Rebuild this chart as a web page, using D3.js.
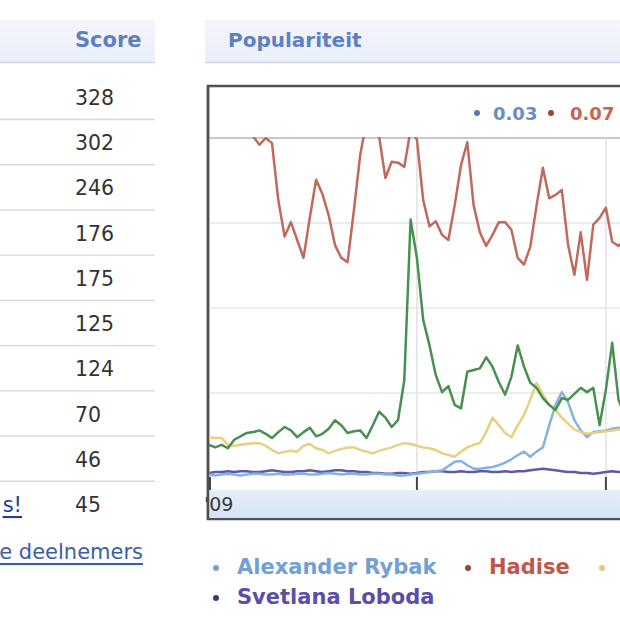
<!DOCTYPE html>
<html><head><meta charset="utf-8">
<script src="https://cdn.jsdelivr.net/npm/d3@7"></script>
<style>body{margin:0;background:#fff}svg{display:block}</style>
</head><body>
<svg id="c" width="620" height="620"></svg>
<script>
// ---- data ----
const scores = [328, 302, 246, 176, 175, 125, 124, 70, 46, 45];
const readout = ["0.03", "0.07"];
const xTickIdx = [33, 63];
const xTickLabel = ["'09"];
const hadise = [4.4,4.5,4.3,4.4,4.6,4.3,4.2,4.02,3.92,4.0,3.94,3.27,2.84,3.01,2.80,2.59,3.06,3.51,3.34,3.09,2.74,2.59,2.54,3.15,3.80,4.2,4.5,4.02,3.53,3.72,3.71,3.66,4.1,3.98,3.27,2.96,3.02,2.86,2.80,3.21,3.68,3.95,3.21,2.89,2.73,2.86,3.01,3.01,2.92,2.59,2.51,2.72,3.21,3.65,3.29,3.33,3.39,2.74,2.39,2.89,2.33,2.98,3.06,3.18,2.78,2.73,2.80];
const groen = [0.39,0.36,0.39,0.35,0.45,0.49,0.53,0.54,0.56,0.52,0.47,0.54,0.60,0.56,0.48,0.54,0.59,0.49,0.52,0.58,0.68,0.62,0.53,0.55,0.56,0.47,0.62,0.78,0.71,0.60,0.68,1.15,3.04,2.59,1.86,1.56,1.21,1.01,1.08,0.86,0.82,1.25,1.27,1.29,1.42,1.31,1.13,0.98,1.19,1.56,1.31,1.12,1.06,0.94,0.86,0.80,0.94,0.92,0.99,1.06,1.01,1.06,0.62,1.04,1.59,0.92,0.74];
const oranje = [0.48,0.47,0.47,0.39,0.38,0.39,0.40,0.41,0.41,0.38,0.33,0.29,0.31,0.32,0.31,0.38,0.40,0.35,0.33,0.29,0.32,0.34,0.36,0.36,0.33,0.31,0.29,0.32,0.34,0.36,0.39,0.41,0.40,0.38,0.36,0.35,0.33,0.29,0.27,0.25,0.31,0.36,0.39,0.41,0.54,0.71,0.62,0.53,0.48,0.62,0.74,0.92,1.12,0.98,0.86,0.80,0.71,0.64,0.57,0.54,0.52,0.53,0.54,0.55,0.56,0.57,0.57];
const rybak = [0.04,0.03,0.04,0.05,0.04,0.03,0.04,0.05,0.05,0.04,0.04,0.05,0.04,0.04,0.05,0.05,0.04,0.04,0.05,0.06,0.05,0.04,0.05,0.05,0.04,0.04,0.05,0.05,0.04,0.04,0.03,0.03,0.04,0.05,0.06,0.07,0.08,0.09,0.14,0.19,0.20,0.15,0.11,0.11,0.12,0.13,0.15,0.18,0.22,0.27,0.31,0.25,0.31,0.36,0.62,0.86,1.01,0.89,0.68,0.56,0.48,0.54,0.55,0.56,0.58,0.59,0.59];
const loboda = [0.06,0.07,0.07,0.08,0.07,0.08,0.08,0.07,0.07,0.08,0.09,0.08,0.07,0.07,0.08,0.08,0.09,0.08,0.07,0.08,0.09,0.09,0.08,0.08,0.07,0.07,0.06,0.06,0.05,0.05,0.06,0.06,0.05,0.06,0.07,0.07,0.08,0.08,0.07,0.07,0.08,0.07,0.07,0.08,0.08,0.07,0.07,0.08,0.07,0.08,0.08,0.09,0.10,0.11,0.10,0.09,0.08,0.07,0.07,0.06,0.06,0.05,0.06,0.07,0.08,0.07,0.07];

const series = [
  {key:"loboda", values: loboda, color:"#5f5aa8"},
  {key:"rybak", values: rybak, color:"#86b2e0"},
  {key:"oranje", values: oranje, color:"#e8cf82"},
  {key:"groen", values: groen, color:"#479150"},
  {key:"hadise", values: hadise, color:"#c06a5c"}
];
const legendRow1 = [
  {name:"Alexander Rybak", dot:"#7f9cc4", text:"#72a0d4"},
  {name:"Hadise", dot:"#9a4636", text:"#c0564a"},
  {name:"", dot:"#f2c27c", text:"#f0a040"}
];
const legendRow2 = [{name:"Svetlana Loboda", dot:"#3e3a88", text:"#5a4ea6"}];

// ---- drawing ----
const svg = d3.select("#c");
const F = "'DejaVu Sans', Verdana, sans-serif";

const defs = svg.append("defs");
const hg = defs.append("linearGradient").attr("id","hg").attr("x1",0).attr("x2",0).attr("y1",0).attr("y2",1);
hg.append("stop").attr("offset","0").attr("stop-color","#f4f6fb");
hg.append("stop").attr("offset","1").attr("stop-color","#eaeef7");
const bg = defs.append("linearGradient").attr("id","bg").attr("x1",0).attr("x2",0).attr("y1",0).attr("y2",1);
bg.append("stop").attr("offset","0").attr("stop-color","#e6eff9");
bg.append("stop").attr("offset","1").attr("stop-color","#d3e2f3");
defs.append("clipPath").attr("id","plotclip").append("rect")
  .attr("x",209).attr("y",137).attr("width",420).attr("height",353);

[[0,155],[205,430]].forEach(([x,w])=>{
  svg.append("rect").attr("x",x).attr("y",20).attr("width",w).attr("height",42).attr("fill","url(#hg)");
  svg.append("line").attr("x1",x).attr("x2",x+w).attr("y1",62.5).attr("y2",62.5).attr("stroke","#cfd5e2").attr("stroke-width",1.5);
});
svg.append("text").attr("x",75).attr("y",40).attr("dominant-baseline","central")
  .attr("font-family",F).attr("font-weight","bold").attr("font-size",21).attr("fill","#5d80c0").text("Score");
svg.append("text").attr("x",228).attr("y",40).attr("dominant-baseline","central")
  .attr("font-family",F).attr("font-weight","bold").attr("font-size",20).attr("fill","#5d80c0").text("Populariteit");

// table
const rowY = d3.scaleLinear().domain([0, scores.length-1]).range([98, 505]);
svg.selectAll(".sep").data(d3.range(scores.length-1)).join("line")
  .attr("x1",0).attr("x2",155)
  .attr("y1",i=>rowY(i)+21.5).attr("y2",i=>rowY(i)+21.5)
  .attr("stroke","#d8d8d8").attr("stroke-width",1.4);
svg.selectAll(".sc").data(scores).join("text")
  .attr("x",75).attr("y",(d,i)=>rowY(i)).attr("dominant-baseline","central")
  .attr("font-family",F).attr("font-size",20.5).attr("fill","#333").text(d=>d);
svg.append("text").attr("x",22).attr("y",rowY(9)).attr("dominant-baseline","central").attr("text-anchor","end")
  .attr("font-family",F).attr("font-size",21).attr("fill","#23408a").attr("text-decoration","underline").text("s!");
svg.append("text").attr("x",143).attr("y",552).attr("dominant-baseline","central").attr("text-anchor","end")
  .attr("font-family",F).attr("font-size",21).attr("fill","#3a5ea8").attr("text-decoration","underline").text("e deelnemers");

// chart frame
svg.append("rect").attr("x",208).attr("y",86).attr("width",430).attr("height",433)
  .attr("fill","#fff").attr("stroke","#505050").attr("stroke-width",2.5);

// readout
svg.append("circle").attr("cx",477).attr("cy",113).attr("r",3).attr("fill","#5a78a8");
svg.append("text").attr("x",493).attr("y",113).attr("dominant-baseline","central")
  .attr("font-family",F).attr("font-weight","bold").attr("font-size",18).attr("fill","#6a8cc4").text(readout[0]);
svg.append("circle").attr("cx",551).attr("cy",113).attr("r",3).attr("fill","#a04434");
svg.append("text").attr("x",570).attr("y",113).attr("dominant-baseline","central")
  .attr("font-family",F).attr("font-weight","bold").attr("font-size",18).attr("fill","#c86452").text(readout[1]);

// scales
const x = d3.scaleLinear().domain([0, 66]).range([209, 624.8]);
const y = d3.scaleLinear().domain([0, 4]).range([478, 138]);

// gridlines
svg.selectAll(".hg").data(y.ticks(4).filter(v=>v>0)).join("line")
  .attr("x1",209).attr("x2",640).attr("y1",d=>y(d)).attr("y2",d=>y(d))
  .attr("stroke",d=>d===4?"#c8c8c8":"#e6e6e6").attr("stroke-width",d=>d===4?1.8:1.5);
svg.selectAll(".vg").data(xTickIdx).join("line")
  .attr("x1",d=>x(d)).attr("x2",d=>x(d)).attr("y1",138).attr("y2",478)
  .attr("stroke","#e2e2e2").attr("stroke-width",1.5);

// bottom band
svg.append("rect").attr("x",209).attr("y",490).attr("width",430).attr("height",28).attr("fill","url(#bg)");
svg.selectAll(".tk").data([0, ...xTickIdx]).join("line")
  .attr("x1",d=>x(d)+(d===0?1:0)).attr("x2",d=>x(d)+(d===0?1:0)).attr("y1",477).attr("y2",490)
  .attr("stroke","#444").attr("stroke-width",2);
svg.append("text").attr("x",204).attr("y",504).attr("dominant-baseline","central")
  .attr("font-family",F).attr("font-size",19).attr("fill","#3a3a3a").text(xTickLabel[0]);
svg.append("line").attr("x1",208).attr("x2",208).attr("y1",86).attr("y2",519).attr("stroke","#505050").attr("stroke-width",2.5);

// lines
const line = d3.line().x((d,i)=>x(i)).y(d=>y(d));
const g = svg.append("g").attr("clip-path","url(#plotclip)");
g.selectAll(".ln").data(series).join("path")
  .attr("d",d=>line(d.values)).attr("fill","none")
  .attr("stroke",d=>d.color).attr("stroke-width",2.5).attr("stroke-linejoin","round");

// legend
const lx1 = [216, 468, 602];
legendRow1.forEach((d,i)=>{
  svg.append("circle").attr("cx",lx1[i]).attr("cy",568).attr("r",3).attr("fill",d.dot);
  if (d.name) svg.append("text").attr("x",lx1[i]+21).attr("y",567).attr("dominant-baseline","central")
    .attr("font-family",F).attr("font-weight","bold").attr("font-size",21).attr("fill",d.text).text(d.name);
});
legendRow2.forEach(d=>{
  svg.append("circle").attr("cx",216).attr("cy",598).attr("r",3).attr("fill",d.dot);
  svg.append("text").attr("x",237).attr("y",597).attr("dominant-baseline","central")
    .attr("font-family",F).attr("font-weight","bold").attr("font-size",21).attr("fill",d.text).text(d.name);
});
</script>
</body></html>
